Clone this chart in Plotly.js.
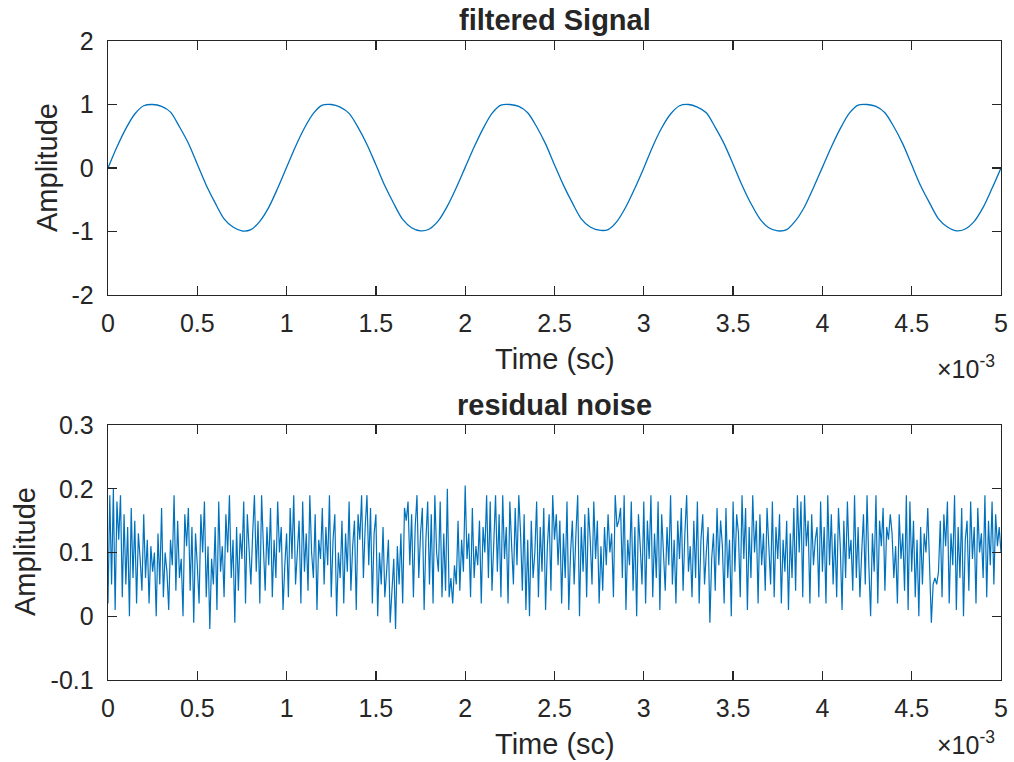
<!DOCTYPE html>
<html>
<head>
<meta charset="utf-8">
<script src="https://cdn.plot.ly/plotly-3.0.1.min.js"></script>
<style>html,body{margin:0;padding:0;background:#fff;}#chart{width:1014px;height:762px;}</style>
</head>
<body>
<div id="chart"></div>
<script>
// time step in ms (axis shown in units of 1e-3 s)
var signalStep = 0.05;
var noiseStep = 0.01;

// filtered signal (one value every 0.05 ms)
var filteredSignal = [
  0.00, 0.33, 0.62, 0.85, 0.98, 1.00, 0.97, 0.88, 0.65, 0.39, 0.06, -0.27, -0.55, -0.80, -0.93, -0.99, -0.97, -0.84, -0.62, -0.32,
  0.01, 0.34, 0.63, 0.86, 0.99, 1.00, 0.96, 0.86, 0.64, 0.37, 0.05, -0.28, -0.56, -0.81, -0.94, -0.99, -0.96, -0.83, -0.60, -0.31,
  0.01, 0.33, 0.62, 0.86, 0.99, 1.00, 0.97, 0.87, 0.65, 0.38, 0.05, -0.27, -0.55, -0.80, -0.93, -0.98, -0.97, -0.84, -0.61, -0.32,
  0.00, 0.34, 0.63, 0.85, 0.98, 1.00, 0.96, 0.87, 0.64, 0.38, 0.06, -0.27, -0.56, -0.80, -0.94, -0.99, -0.97, -0.83, -0.61, -0.31,
  0.01, 0.33, 0.62, 0.86, 0.99, 1.00, 0.97, 0.87, 0.65, 0.38, 0.05, -0.28, -0.55, -0.80, -0.93, -0.99, -0.96, -0.84, -0.62, -0.32,
  0.00
];

// residual noise (one value every 0.01 ms)
var residualNoise = [
  0.02, 0.19, 0.05, 0.20, 0.01, 0.18, 0.12, 0.19, 0.03, 0.16, 0.05, 0.14, 0.00, 0.17, 0.06, 0.15, 0.02, 0.13, 0.09, 0.04,
  0.16, 0.06, 0.12, 0.02, 0.11, 0.07, 0.10, 0.00, 0.13, 0.05, 0.17, 0.03, 0.10, 0.07, 0.01, 0.12, 0.08, 0.19, 0.04, 0.15,
  0.06, 0.09, 0.00, 0.16, 0.11, 0.17, 0.04, 0.14, -0.01, 0.13, 0.08, 0.02, 0.16, 0.10, 0.18, 0.03, 0.11, -0.02, 0.09, 0.05,
  0.14, 0.01, 0.18, 0.07, 0.11, 0.03, 0.16, 0.10, 0.19, 0.06, 0.12, -0.01, 0.14, 0.04, 0.13, 0.09, 0.18, 0.02, 0.16, 0.10,
  0.05, 0.13, 0.19, 0.07, 0.15, 0.02, 0.19, 0.11, 0.04, 0.14, 0.08, 0.17, 0.03, 0.12, 0.06, 0.18, 0.10, 0.14, 0.01, 0.08,
  0.13, 0.03, 0.17, 0.09, 0.19, 0.05, 0.11, 0.15, 0.02, 0.18, 0.07, 0.13, 0.04, 0.19, 0.10, 0.06, 0.16, 0.01, 0.12, 0.09,
  0.17, 0.05, 0.14, 0.08, 0.19, 0.03, 0.12, 0.16, 0.00, 0.10, 0.06, 0.15, 0.02, 0.13, 0.07, 0.18, 0.04, 0.11, 0.15, 0.01,
  0.16, 0.12, 0.19, 0.06, 0.14, 0.19, 0.08, 0.17, 0.02, 0.13, 0.16, 0.00, 0.10, 0.05, 0.14, 0.03, 0.07, 0.12, -0.01, 0.04,
  0.09, -0.02, 0.11, 0.05, 0.13, 0.02, 0.17, 0.15, 0.18, 0.08, 0.16, 0.03, 0.14, 0.19, 0.06, 0.13, 0.17, 0.01, 0.12, 0.18,
  0.05, 0.16, 0.02, 0.19, 0.10, 0.07, 0.18, 0.03, 0.13, 0.04, 0.20, 0.03, 0.06, 0.02, 0.08, 0.05, 0.15, 0.04, 0.12, 0.07,
  0.205, 0.09, 0.13, 0.03, 0.17, 0.06, 0.11, 0.08, 0.15, 0.02, 0.14, 0.10, 0.19, 0.06, 0.18, 0.04, 0.12, 0.19, 0.07, 0.16,
  0.03, 0.19, 0.09, 0.14, 0.02, 0.18, 0.11, 0.05, 0.17, 0.08, 0.19, 0.13, 0.04, 0.16, 0.01, 0.12, 0.00, 0.15, 0.06, 0.10,
  0.18, 0.03, 0.14, 0.07, 0.17, 0.01, 0.11, 0.16, 0.04, 0.19, 0.12, 0.16, 0.08, 0.15, 0.02, 0.13, 0.06, 0.18, 0.01, 0.10,
  0.15, 0.05, 0.13, 0.19, 0.00, 0.14, 0.07, 0.16, 0.03, 0.17, 0.12, 0.05, 0.18, 0.09, 0.15, 0.02, 0.11, 0.04, 0.14, 0.08,
  0.16, 0.10, 0.13, 0.03, 0.19, 0.14, 0.15, 0.17, 0.06, 0.19, 0.01, 0.12, 0.08, 0.18, 0.04, 0.14, 0.00, 0.16, 0.11, 0.05,
  0.18, 0.02, 0.15, 0.09, 0.19, 0.03, 0.13, 0.06, 0.18, 0.01, 0.16, 0.11, 0.04, 0.14, 0.08, 0.19, 0.05, 0.12, 0.02, 0.15,
  0.09, 0.17, 0.04, 0.13, 0.19, 0.07, 0.11, 0.03, 0.15, 0.06, 0.18, 0.02, 0.12, 0.16, 0.05, 0.10, 0.14, -0.01, 0.09, 0.13,
  0.04, 0.17, 0.08, 0.15, 0.11, 0.02, 0.17, 0.06, 0.12, 0.00, 0.18, 0.07, 0.16, 0.13, 0.03, 0.19, 0.09, 0.17, 0.01, 0.14,
  0.06, 0.19, 0.10, 0.15, 0.02, 0.16, 0.08, 0.13, 0.04, 0.17, 0.11, 0.05, 0.18, 0.03, 0.14, 0.09, 0.16, 0.02, 0.12, 0.07,
  0.15, 0.01, 0.13, 0.06, 0.17, 0.04, 0.19, 0.10, 0.18, 0.03, 0.19, 0.11, 0.15, 0.02, 0.16, 0.08, 0.12, 0.14, 0.03, 0.18,
  0.07, 0.14, 0.02, 0.19, 0.08, 0.16, 0.05, 0.13, 0.03, 0.17, 0.11, 0.01, 0.15, 0.06, 0.18, 0.09, 0.12, 0.04, 0.19, 0.06,
  0.14, 0.03, 0.10, 0.16, 0.05, 0.19, 0.08, 0.00, 0.13, 0.07, 0.19, 0.02, 0.15, 0.11, 0.17, 0.04, 0.14, 0.12, 0.16, 0.13,
  0.06, 0.11, 0.02, 0.16, 0.09, 0.13, 0.04, 0.19, 0.01, 0.18, 0.07, 0.15, 0.03, 0.12, 0.00, 0.14, 0.05, 0.13, 0.10, 0.17,
  0.08, -0.01, 0.05, 0.06, 0.05, 0.07, 0.15, 0.03, 0.16, 0.11, 0.18, 0.02, 0.13, 0.08, 0.19, 0.01, 0.14, 0.06, 0.17, 0.00,
  0.12, 0.15, 0.04, 0.18, 0.09, 0.14, 0.02, 0.17, 0.10, 0.13, 0.06, 0.19, 0.03, 0.15, 0.08, 0.18, 0.05, 0.16, 0.11, 0.14,
  0.10
];

// tick positions and labels
var xTickVals = [0, 0.5, 1, 1.5, 2, 2.5, 3, 3.5, 4, 4.5, 5];
var xTickText = ['0', '0.5', '1', '1.5', '2', '2.5', '3', '3.5', '4', '4.5', '5'];
var y1TickVals = [-2, -1, 0, 1, 2];
var y1TickText = ['-2', '-1', '0', '1', '2'];
var y2TickVals = [-0.1, 0, 0.1, 0.2, 0.3];
var y2TickText = ['-0.1', '0', '0.1', '0.2', '0.3'];

var titles = ['filtered Signal', 'residual noise'];
var xLabel = 'Time (sc)';
var yLabel = 'Amplitude';
var exponentLabel = '\u00d710<sup>-3</sup>';

var tSignal = filteredSignal.map(function (_, i) { return i * signalStep; });
var tNoise = residualNoise.map(function (_, i) { return i * noiseStep; });

var lineColor = '#0072BD';
var axisColor = '#262626';
var font = 'Liberation Sans, Arial, Helvetica, sans-serif';

function axisBase(vals, text, standoff) {
  return {
    showline: true, mirror: 'ticks', linecolor: axisColor, linewidth: 1.3,
    ticks: 'inside', ticklen: 9, tickwidth: 1.3, tickcolor: axisColor,
    showgrid: false, zeroline: false,
    tickmode: 'array', tickvals: vals, ticktext: text,
    ticklabelstandoff: standoff,
    tickfont: {family: font, size: 25, color: axisColor}
  };
}

var xa1 = Object.assign(axisBase(xTickVals, xTickText, 6), {domain: [0, 1], range: [0, 5], anchor: 'y'});
var ya1 = Object.assign(axisBase(y1TickVals, y1TickText, 8), {domain: [0.6025, 1], range: [-2, 2], anchor: 'x'});
var xa2 = Object.assign(axisBase(xTickVals, xTickText, 6), {domain: [0, 1], range: [0, 5], anchor: 'y2'});
var ya2 = Object.assign(axisBase(y2TickVals, y2TickText, 8), {domain: [0, 0.399], range: [-0.1, 0.3], anchor: 'x2'});

var data = [
  {x: tSignal, y: filteredSignal, xaxis: 'x', yaxis: 'y', type: 'scatter', mode: 'lines',
   line: {color: lineColor, width: 1.3, shape: 'spline', smoothing: 0.8}, hoverinfo: 'skip'},
  {x: tNoise, y: residualNoise, xaxis: 'x2', yaxis: 'y2', type: 'scatter', mode: 'lines',
   line: {color: lineColor, width: 1.2}, hoverinfo: 'skip'}
];

function ann(text, x, y, size, opts) {
  return Object.assign({text: text, x: x, y: y, xref: 'paper', yref: 'paper', showarrow: false,
    xanchor: 'center', yanchor: 'middle', font: {family: font, size: size, color: axisColor}}, opts || {});
}

var layout = {
  width: 1014, height: 762,
  margin: {l: 108, r: 13, t: 41, b: 82, pad: 0},
  paper_bgcolor: '#ffffff', plot_bgcolor: '#ffffff',
  showlegend: false,
  xaxis: xa1, yaxis: ya1, xaxis2: xa2, yaxis2: ya2,
  annotations: [
    ann('<b>' + titles[0] + '</b>', 0.5, 1.033, 29),
    ann('<b>' + titles[1] + '</b>', 0.5, 0.430, 29),
    ann(xLabel, 0.5, 0.503, 29),
    ann(xLabel, 0.5, -0.100, 29),
    ann(yLabel, -0.0683, 0.8013, 29, {textangle: -90}),
    ann(yLabel, -0.0929, 0.2003, 29, {textangle: -90}),
    ann(exponentLabel, 0.9955, 0.490, 25, {xanchor: 'right'}),
    ann(exponentLabel, 0.9955, -0.098, 25, {xanchor: 'right'})
  ]
};

Plotly.newPlot('chart', data, layout, {staticPlot: true, displayModeBar: false});
</script>
</body>
</html>
